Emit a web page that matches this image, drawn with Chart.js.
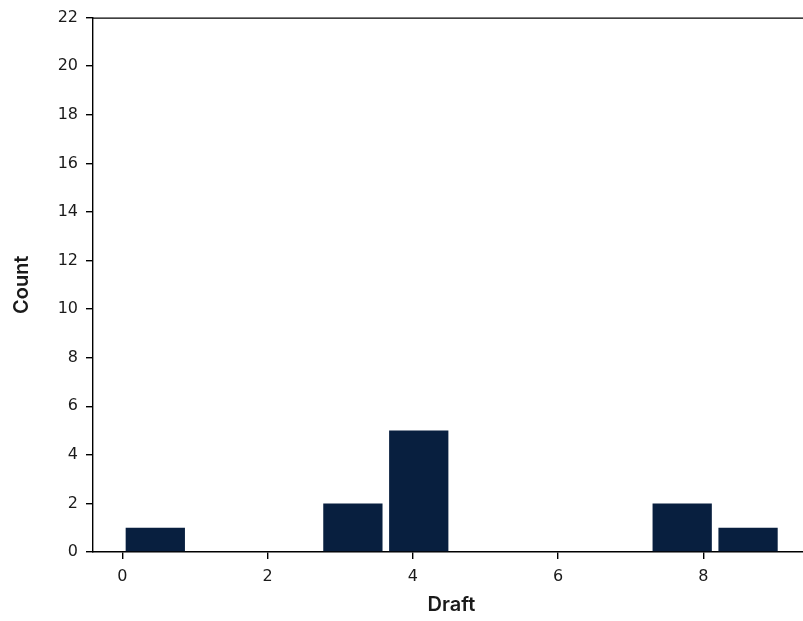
<!DOCTYPE html>
<html>
<head>
<meta charset="utf-8">
<script src="https://cdn.jsdelivr.net/npm/chart.js@4"></script>
<style>
  html, body { margin: 0; padding: 0; background: #fff; overflow: hidden; }
  #wrap { width: 803px; height: 621px; overflow: hidden; }
</style>
</head>
<body>
<div id="wrap"><canvas id="histChart" width="810" height="621"></canvas></div>
<script>
// histogram bins (centre of each bin) and counts
const binCenters = [0.454, 1.361, 2.268, 3.175, 4.082, 4.989, 5.896, 6.803, 7.710, 8.617];
const counts = [1, 0, 0, 2, 5, 0, 0, 0, 2, 1];
const xTicks = [0, 2, 4, 6, 8];
const yTicks = [0, 2, 4, 6, 8, 10, 12, 14, 16, 18, 20, 22];

const barColor = '#081f3f';
const tickFont = { family: 'DejaVu Sans', size: 16 };
const labelFont = { family: 'Inter', size: 20, weight: '600' };

// top spine, matplotlib style
const topSpine = {
    id: 'topSpine',
    afterDraw(chart) {
        const { ctx, chartArea } = chart;
        ctx.save();
        ctx.strokeStyle = '#000';
        ctx.lineWidth = 1.4;
        ctx.beginPath();
        ctx.moveTo(chartArea.left, chartArea.top + 0.5);
        ctx.lineTo(chartArea.right, chartArea.top + 0.5);
        ctx.stroke();
        ctx.restore();
    }
};

const ctx = document.getElementById('histChart').getContext('2d');
new Chart(ctx, {
    type: 'bar',
    data: {
        datasets: [{
            label: 'Count',
            data: binCenters.map((x, i) => ({ x: x, y: counts[i] })),
            backgroundColor: barColor,
            borderWidth: 0,
            barPercentage: 0.9,
            categoryPercentage: 1.0
        }]
    },
    options: {
        responsive: false,
        animation: false,
        layout: { padding: { top: 16, left: 0, right: 0, bottom: 0 } },
        plugins: {
            legend: { display: false },
            tooltip: { enabled: false }
        },
        scales: {
            x: {
                type: 'linear',
                offset: false,
                min: -0.404,
                max: 9.47,
                grid: { offset: false, drawOnChartArea: false, drawTicks: true, tickLength: 7, color: '#000', lineWidth: 1.4 },
                border: { display: true, color: '#000', width: 1.4 },
                afterBuildTicks: (scale) => { scale.ticks = xTicks.map(v => ({ value: v })); },
                afterFit: (scale) => { scale.height = 69; },
                ticks: { font: tickFont, color: '#1a1a1a', padding: 8, maxRotation: 0 },
                title: { display: true, text: 'Draft', font: labelFont, color: '#1a1a1a', padding: { top: 0, bottom: 4 } }
            },
            y: {
                min: 0,
                max: 22,
                grid: { drawOnChartArea: false, drawTicks: true, tickLength: 7, color: '#000', lineWidth: 1.4 },
                border: { display: true, color: '#000', width: 1.4 },
                afterBuildTicks: (scale) => { scale.ticks = yTicks.map(v => ({ value: v })); },
                afterFit: (scale) => { scale.width = 93; },
                ticks: { font: tickFont, color: '#1a1a1a', padding: 8 },
                title: { display: true, text: 'Count', font: labelFont, color: '#1a1a1a', padding: { top: 10, bottom: 0 } }
            }
        }
    },
    plugins: [topSpine]
});
</script>
</body>
</html>
